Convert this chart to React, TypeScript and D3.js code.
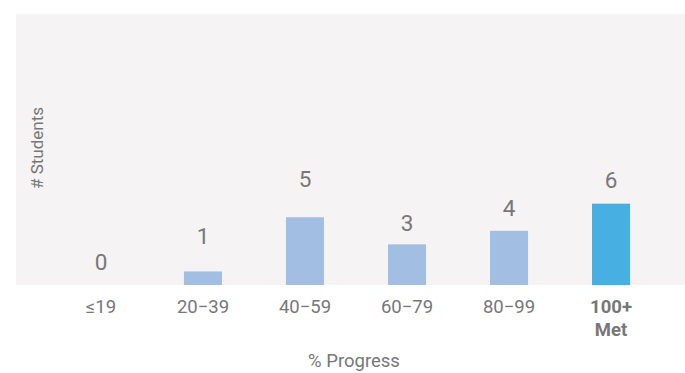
import React from "react";
import * as d3 from "d3";

const categories = ["≤19", "20−39", "40−59", "60−79", "80−99", "100+\nMet"];
const values = [0, 1, 5, 3, 4, 6];
const highlighted = [false, false, false, false, false, true];
const yDomainMax = 20;
const labelLift = [15, 27, 30, 13, 15, 16];

const W = 685;
const H = 373;
const panel = { left: 16, top: 14, right: 685, bottom: 285 };
const FONT = "Roboto, 'Noto Sans', sans-serif";
const TEXT = "#777777";

export default function App() {
  const x = d3
    .scaleBand<string>()
    .domain(categories)
    .range([50, 662])
    .paddingInner(0.627)
    .paddingOuter(0.313);
  const y = d3.scaleLinear().domain([0, yDomainMax]).range([panel.bottom, panel.top]);

  return (
    <svg
      width={W}
      height={H}
      style={{ position: "absolute", left: 0, top: 0, display: "block" }}
      fontFamily={FONT}
    >
      <rect x={0} y={0} width={W} height={H} fill="#ffffff" />
      <rect
        x={panel.left}
        y={panel.top}
        width={panel.right - panel.left}
        height={panel.bottom - panel.top}
        fill="#f5f3f4"
      />
      {categories.map((c, i) => {
        const cx = (x(c) as number) + x.bandwidth() / 2;
        const lines = c.split("\n");
        return (
          <g key={c}>
            <rect
              x={x(c) as number}
              y={y(values[i])}
              width={x.bandwidth()}
              height={panel.bottom - y(values[i])}
              fill={highlighted[i] ? "#47afe1" : "#a3bee3"}
            />
            <text
              x={cx}
              y={y(values[i]) - labelLift[i]}
              textAnchor="middle"
              fontSize={22.5}
              fill={TEXT}
            >
              {values[i]}
            </text>
            {lines.map((l, j) => (
              <text
                key={j}
                x={cx}
                y={313 + j * 23}
                textAnchor="middle"
                fontSize={18.5}
                fontWeight={highlighted[i] ? 700 : 400}
                fill={TEXT}
              >
                {l}
              </text>
            ))}
          </g>
        );
      })}
      <text x={354} y={367} textAnchor="middle" fontSize={18.5} fill={TEXT}>
        % Progress
      </text>
      <text
        transform={`translate(43,148) rotate(-90)`}
        textAnchor="middle"
        fontSize={17}
        fill={TEXT}
      >
        # Students
      </text>
    </svg>
  );
}
